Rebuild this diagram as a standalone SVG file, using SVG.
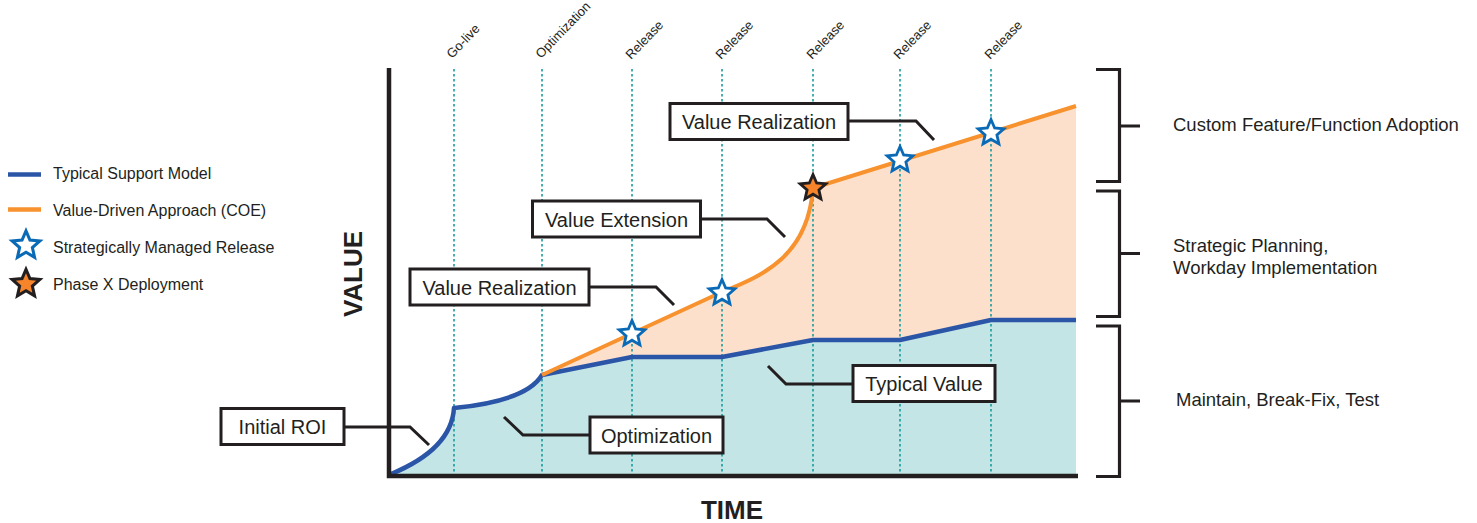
<svg xmlns="http://www.w3.org/2000/svg" xmlns:xlink="http://www.w3.org/1999/xlink" width="1477" height="523" viewBox="0 0 1477 523">
  <style>
    text { font-family: "Liberation Sans", Arial, sans-serif; fill: #231f20; }
    .tick-label { font-size: 13px; }
    .legend-text { font-size: 16px; }
    .box-text { font-size: 20px; text-anchor: middle; }
    .side-text { font-size: 18.5px; }
    .axis-title { font-size: 26px; font-weight: bold; text-anchor: middle; }
    .box { fill: #ffffff; stroke: #231f20; stroke-width: 3; }
    .leader { fill: none; stroke: #231f20; stroke-width: 3; }
    .axis { fill: none; stroke: #231f20; stroke-width: 4.5; }
    .bracket { fill: none; stroke: #231f20; stroke-width: 3.2; }
    .guide { stroke: #1a9c9c; stroke-width: 1.6; stroke-dasharray: 2.5 2.5; }
    .typical { fill: none; stroke: #2b55a7; stroke-width: 4.5; stroke-linejoin: round; }
    .coe { fill: none; stroke: #f7922e; stroke-width: 4; stroke-linejoin: round; }
    .release-star { fill: #ffffff; stroke: #0a6ab6; stroke-width: 2.8; stroke-linejoin: miter; }
    .phase-star { fill: #f5842a; stroke: #231f20; stroke-width: 2.8; stroke-linejoin: miter; }
  </style>
  <defs>
    <path id="star" d="M0,-13.5 L3.64,-5.02 L12.84,-4.17 L5.9,1.92 L7.94,10.92 L0,6.2 L-7.94,10.92 L-5.9,1.92 L-12.84,-4.17 L-3.64,-5.02 Z"/>
  </defs>

  <rect width="1477" height="523" fill="#ffffff"/>

  <!-- filled value areas -->
  <g id="areas">
    <path id="area-typical" fill="#c4e5e5" d="M391,474 C425,460 452,440 454,408 C495,404 530,395 542,375 L632,357 L722,357 L813,340 L900,340 L991,320 L1076,320 L1076,476 L391,476 Z"/>
    <path id="area-coe" fill="#fce0cc" d="M542,375 L722,292 C765,275 808,255 813,188 L1076,106 L1076,320 L991,320 L900,340 L813,340 L722,357 L632,357 Z"/>
  </g>

  <!-- milestone guides -->
  <g id="guides">
    <line class="guide" x1="454" y1="69" x2="454" y2="474"/>
    <line class="guide" x1="542" y1="69" x2="542" y2="474"/>
    <line class="guide" x1="632" y1="69" x2="632" y2="474"/>
    <line class="guide" x1="722" y1="69" x2="722" y2="474"/>
    <line class="guide" x1="813" y1="69" x2="813" y2="474"/>
    <line class="guide" x1="900" y1="69" x2="900" y2="474"/>
    <line class="guide" x1="991" y1="69" x2="991" y2="474"/>
  </g>

  <g id="milestone-labels">
    <text class="tick-label" transform="translate(452,59) rotate(-46)">Go-live</text>
    <text class="tick-label" transform="translate(541,59) rotate(-46)">Optimization</text>
    <text class="tick-label" transform="translate(631,60) rotate(-46)">Release</text>
    <text class="tick-label" transform="translate(721,60) rotate(-46)">Release</text>
    <text class="tick-label" transform="translate(812,60) rotate(-46)">Release</text>
    <text class="tick-label" transform="translate(899,60) rotate(-46)">Release</text>
    <text class="tick-label" transform="translate(990,60) rotate(-46)">Release</text>
  </g>

  <!-- value curves -->
  <g id="curves">
    <path id="curve-typical" class="typical" d="M391,474 C425,460 452,440 454,408 C495,404 530,395 542,375 L632,357 L722,357 L813,340 L900,340 L991,320 L1076,320"/>
    <path id="curve-coe" class="coe" d="M542,375 L722,292 C765,275 808,255 813,188 L1076,106"/>
  </g>

  <!-- axes -->
  <g id="axes">
    <path class="axis" d="M389,68 V476 H1078"/>
    <text class="axis-title" transform="translate(362,274) rotate(-90)">VALUE</text>
    <text class="axis-title" x="732" y="519">TIME</text>
  </g>

  <!-- release markers -->
  <g id="markers">
    <use xlink:href="#star" href="#star" class="release-star" transform="translate(632,334)"/>
    <use xlink:href="#star" href="#star" class="release-star" transform="translate(722,293)"/>
    <use xlink:href="#star" href="#star" class="phase-star" transform="translate(813,188)"/>
    <use xlink:href="#star" href="#star" class="release-star" transform="translate(900,160)"/>
    <use xlink:href="#star" href="#star" class="release-star" transform="translate(991,133)"/>
  </g>

  <!-- leader lines from callouts -->
  <g id="connectors">
    <path class="leader" d="M344,427 H410 L429,445"/>
    <path class="leader" d="M590,435 H523 L504,417"/>
    <path class="leader" d="M853,384 H786 L768,366"/>
    <path class="leader" d="M589,287 H656 L674,305"/>
    <path class="leader" d="M700,219 H767 L785,237"/>
    <path class="leader" d="M848,121 H916 L934,140"/>
  </g>

  <!-- callouts -->
  <g id="callout-initial-roi">
    <rect class="box" x="221" y="408.5" width="123" height="36"/>
    <text class="box-text" x="282.5" y="434">Initial ROI</text>
  </g>
  <g id="callout-optimization">
    <rect class="box" x="590" y="417" width="133" height="36"/>
    <text class="box-text" x="656.5" y="442.5">Optimization</text>
  </g>
  <g id="callout-typical-value">
    <rect class="box" x="853" y="365.5" width="142" height="36"/>
    <text class="box-text" x="924" y="391">Typical Value</text>
  </g>
  <g id="callout-value-realization-1">
    <rect class="box" x="410" y="269" width="179" height="36"/>
    <text class="box-text" x="499.5" y="294.5">Value Realization</text>
  </g>
  <g id="callout-value-extension">
    <rect class="box" x="532.5" y="201" width="168" height="36"/>
    <text class="box-text" x="616.5" y="226.5">Value Extension</text>
  </g>
  <g id="callout-value-realization-2">
    <rect class="box" x="670" y="103.5" width="178" height="36"/>
    <text class="box-text" x="759" y="129">Value Realization</text>
  </g>

  <!-- legend -->
  <g id="legend">
    <g id="legend-typical">
      <line x1="8" y1="174.5" x2="41" y2="174.5" stroke="#2b55a7" stroke-width="4.5"/>
      <text class="legend-text" x="53" y="178.5">Typical Support Model</text>
    </g>
    <g id="legend-coe">
      <line x1="8" y1="209.5" x2="41" y2="209.5" stroke="#f7922e" stroke-width="4.5"/>
      <text class="legend-text" x="53" y="215.5">Value-Driven Approach (COE)</text>
    </g>
    <g id="legend-release">
      <use xlink:href="#star" href="#star" class="release-star" transform="translate(26,245.5) scale(1.08)"/>
      <text class="legend-text" x="53" y="252.5">Strategically Managed Release</text>
    </g>
    <g id="legend-phase">
      <use xlink:href="#star" href="#star" class="phase-star" transform="translate(26,284) scale(1.08)"/>
      <text class="legend-text" x="53" y="289.5">Phase X Deployment</text>
    </g>
  </g>

  <!-- value bands on the right -->
  <g id="band-adoption">
    <path class="bracket" d="M1096,69.5 H1119.5 V181.5 H1096 M1119.5,126 H1140"/>
    <text class="side-text" x="1173" y="131">Custom Feature/Function Adoption</text>
  </g>
  <g id="band-planning">
    <path class="bracket" d="M1096,191 H1119.5 V316.5 H1096 M1119.5,253.5 H1140"/>
    <text class="side-text" x="1173" y="252">Strategic Planning,</text>
    <text class="side-text" x="1173" y="274">Workday Implementation</text>
  </g>
  <g id="band-maintain">
    <path class="bracket" d="M1096,326 H1119.5 V476.5 H1096 M1119.5,401 H1140"/>
    <text class="side-text" x="1176" y="406">Maintain, Break-Fix, Test</text>
  </g>
</svg>
